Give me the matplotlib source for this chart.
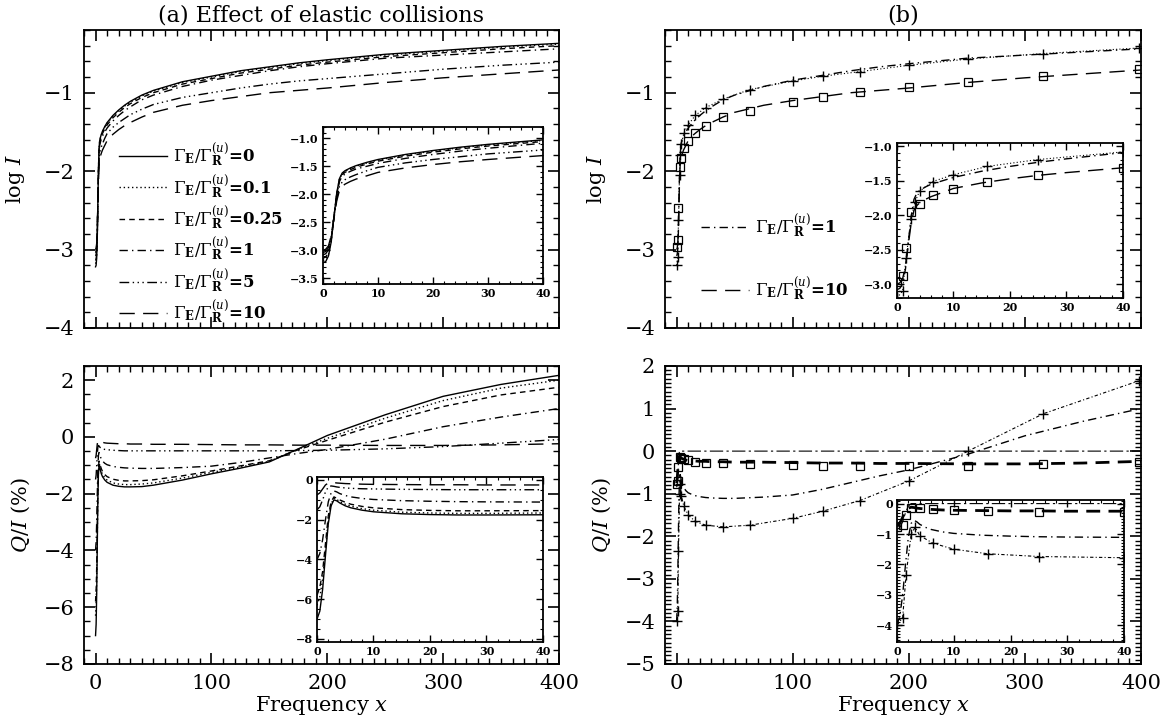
"""
Elastic collision effect on log I and Q/I profiles - two column comparison.
Saves: out.png
"""
import matplotlib
matplotlib.use("Agg")
import matplotlib.pyplot as plt
from matplotlib.ticker import MultipleLocator

plt.rcParams["font.family"] = "DejaVu Serif"
plt.rcParams["mathtext.fontset"] = "dejavuserif"
plt.rcParams["axes.linewidth"] = 1.3

# ── Data ──────────────────────────────────────────────────────────────────────
freq = [0, 0.5, 1, 1.5, 2, 2.5, 3, 3.5, 4, 5, 6, 8, 10, 15, 20, 25, 30, 40, 50,
        75, 100, 125, 150, 175, 200, 250, 300, 350, 400]

gammas = ["0", "0.1", "0.25", "1", "5", "10"]

logI_g0   = [-3.22, -3.20, -3.10, -2.85, -2.40, -1.98, -1.72, -1.62, -1.58, -1.53, -1.49, -1.43, -1.38, -1.29,
             -1.22, -1.16, -1.11, -1.03, -0.97, -0.86, -0.79, -0.72, -0.67, -0.62, -0.58, -0.51, -0.46, -0.41, -0.37]
logI_g01  = [-3.18, -3.16, -3.07, -2.83, -2.40, -1.99, -1.73, -1.63, -1.59, -1.54, -1.50, -1.44, -1.39, -1.30,
             -1.23, -1.17, -1.12, -1.04, -0.98, -0.87, -0.80, -0.73, -0.68, -0.63, -0.59, -0.52, -0.47, -0.42, -0.38]
logI_g025 = [-3.14, -3.12, -3.04, -2.81, -2.40, -2.00, -1.74, -1.65, -1.61, -1.56, -1.52, -1.46, -1.41, -1.32,
             -1.25, -1.19, -1.14, -1.06, -1.00, -0.89, -0.82, -0.75, -0.70, -0.65, -0.61, -0.54, -0.49, -0.44, -0.40]
logI_g1   = [-3.08, -3.06, -2.99, -2.78, -2.40, -2.02, -1.77, -1.68, -1.64, -1.59, -1.55, -1.50, -1.45, -1.36,
             -1.29, -1.23, -1.18, -1.09, -1.03, -0.92, -0.84, -0.78, -0.72, -0.67, -0.63, -0.56, -0.52, -0.48, -0.44]
logI_g5   = [-3.04, -3.02, -2.95, -2.76, -2.42, -2.08, -1.86, -1.78, -1.74, -1.69, -1.65, -1.58, -1.52, -1.44,
             -1.38, -1.33, -1.28, -1.21, -1.15, -1.06, -1.00, -0.94, -0.89, -0.85, -0.82, -0.76, -0.70, -0.65, -0.61]
logI_g10  = [-3.00, -2.98, -2.92, -2.74, -2.43, -2.12, -1.93, -1.86, -1.82, -1.77, -1.73, -1.67, -1.61, -1.53,
             -1.47, -1.42, -1.38, -1.31, -1.25, -1.16, -1.10, -1.05, -1.00, -0.97, -0.94, -0.87, -0.81, -0.76, -0.71]

qi_g0   = [-7.00, -6.60, -5.50, -3.80, -2.20, -1.30, -1.00, -1.05, -1.15, -1.30, -1.40, -1.52, -1.60, -1.70,
           -1.74, -1.76, -1.76, -1.75, -1.70, -1.52, -1.30, -1.10, -0.88, -0.42, 0.05, 0.78, 1.43, 1.85, 2.17]
qi_g01  = [-6.30, -5.90, -5.00, -3.50, -2.00, -1.20, -0.92, -0.98, -1.08, -1.22, -1.32, -1.44, -1.52, -1.62,
           -1.66, -1.68, -1.68, -1.66, -1.62, -1.45, -1.25, -1.06, -0.86, -0.43, -0.05, 0.66, 1.28, 1.72, 2.00]
qi_g025 = [-5.80, -5.40, -4.60, -3.20, -1.80, -1.10, -0.85, -0.92, -1.00, -1.12, -1.22, -1.33, -1.40, -1.49,
           -1.53, -1.55, -1.55, -1.54, -1.51, -1.37, -1.20, -1.02, -0.84, -0.45, -0.12, 0.52, 1.07, 1.48, 1.75]
qi_g1   = [-4.00, -3.70, -3.00, -2.00, -1.10, -0.65, -0.55, -0.60, -0.68, -0.78, -0.85, -0.93, -0.98, -1.04,
           -1.07, -1.09, -1.10, -1.11, -1.11, -1.08, -1.03, -0.90, -0.74, -0.58, -0.44, -0.08, 0.36, 0.70, 1.00]
qi_g5   = [-1.50, -1.35, -1.00, -0.60, -0.35, -0.30, -0.32, -0.35, -0.37, -0.40, -0.42, -0.44, -0.45, -0.47,
           -0.48, -0.49, -0.49, -0.49, -0.49, -0.49, -0.49, -0.49, -0.49, -0.48, -0.47, -0.42, -0.34, -0.22, -0.09]
qi_g10  = [-0.75, -0.65, -0.45, -0.25, -0.15, -0.12, -0.13, -0.15, -0.16, -0.18, -0.19, -0.21, -0.22, -0.23,
           -0.24, -0.24, -0.25, -0.25, -0.26, -0.26, -0.27, -0.28, -0.28, -0.29, -0.29, -0.30, -0.30, -0.28, -0.24]

logI_all = [logI_g0, logI_g01, logI_g025, logI_g1, logI_g5, logI_g10]
qi_all   = [qi_g0, qi_g01, qi_g025, qi_g1, qi_g5, qi_g10]

# panel (b): marker solutions
freq_plus = [0, 1, 1.6, 2.5, 3.2, 4, 6.3, 10, 16, 25, 40, 63, 100, 126, 158, 200, 251, 316, 398]
logI_plus = [-3.20, -3.10, -2.62, -2.05, -1.80, -1.65, -1.51, -1.41, -1.29, -1.19, -1.08, -0.96, -0.85,
             -0.79, -0.73, -0.65, -0.57, -0.50, -0.43]
qi_plus   = [-4.00, -3.75, -2.35, -1.00, -0.78, -1.05, -1.30, -1.50, -1.65, -1.74, -1.78, -1.74, -1.58,
             -1.41, -1.16, -0.70, 0.00, 0.88, 1.65]

freq_sq = [0, 1, 1.6, 2.5, 4, 6.3, 10, 16, 25, 40, 63, 100, 126, 158, 200, 251, 316, 398]
logI_sq = [-2.97, -2.88, -2.47, -1.95, -1.83, -1.71, -1.62, -1.51, -1.42, -1.31, -1.23, -1.12, -1.05,
           -0.99, -0.93, -0.86, -0.79, -0.70]
qi_sq   = [-0.78, -0.70, -0.37, -0.13, -0.15, -0.19, -0.22, -0.25, -0.27, -0.28, -0.31, -0.33, -0.34,
           -0.35, -0.35, -0.34, -0.31, -0.25]

freq_zero = [0, 0.5, 1, 1.5, 2, 2.5, 3, 400]
qi_zero   = [-0.85, -0.80, -0.60, -0.30, -0.08, 0.00, 0.00, 0.00]

# ── Styles ────────────────────────────────────────────────────────────────────
SOLID = "-"
DOT   = (0, (1, 2))
DASH  = (0, (4, 3))
DDOT  = (0, (6, 3, 1, 3))
D3DOT = (0, (7, 2.5, 1, 2.5, 1, 2.5, 1, 2.5))
LDASH = (0, (11, 6))
FINE  = (0, (3, 2, 1, 2))
styles = [SOLID, DOT, DASH, DDOT, D3DOT, LDASH]
LW = 1.0


def gamma_label(g):
    return r"$\Gamma_{\mathbf{E}}/\Gamma_{\mathbf{R}}^{(u)}$=" + g


def style_main(ax, ymaj, ymin):
    ax.set_xlim(-10, 400)
    ax.xaxis.set_major_locator(MultipleLocator(100))
    ax.xaxis.set_minor_locator(MultipleLocator(10))
    ax.yaxis.set_major_locator(MultipleLocator(ymaj))
    ax.yaxis.set_minor_locator(MultipleLocator(ymin))
    ax.tick_params(which="both", direction="in", top=True, right=True, labelsize=15)
    ax.tick_params(which="major", length=8, width=1.2, pad=7)
    ax.tick_params(which="minor", length=4, width=1.0)


def style_inset(ax, ylim, ymaj, ymin):
    ax.set_xlim(0, 40)
    ax.set_ylim(*ylim)
    ax.xaxis.set_major_locator(MultipleLocator(10))
    ax.xaxis.set_minor_locator(MultipleLocator(2))
    ax.yaxis.set_major_locator(MultipleLocator(ymaj))
    ax.yaxis.set_minor_locator(MultipleLocator(ymin))
    ax.tick_params(which="both", direction="in", top=True, right=True, labelsize=8, pad=3)
    ax.tick_params(which="major", length=5, width=1.0)
    ax.tick_params(which="minor", length=2.5, width=0.8)
    for lab in ax.get_xticklabels() + ax.get_yticklabels():
        lab.set_fontweight("bold")


fig = plt.figure(figsize=(11.71, 7.21), dpi=100)
fig.patch.set_facecolor("white")

ax_tl = fig.add_axes([0.0717, 0.5451, 0.4056, 0.4133])
ax_bl = fig.add_axes([0.0717, 0.0791, 0.4056, 0.4133])
ax_tr = fig.add_axes([0.5679, 0.5451, 0.4065, 0.4133])
ax_br = fig.add_axes([0.5679, 0.0791, 0.4065, 0.4133])

in_tl = fig.add_axes([0.2758, 0.6061, 0.1879, 0.2178])
in_bl = fig.add_axes([0.2707, 0.1096, 0.1930, 0.2288])
in_tr = fig.add_axes([0.7660, 0.5867, 0.1930, 0.2150])
in_br = fig.add_axes([0.7660, 0.1096, 0.1939, 0.1970])

# ── (a) top: log I ────────────────────────────────────────────────────────────
for vals, ls, g in zip(logI_all, styles, gammas):
    ax_tl.plot(freq, vals, color="black", linestyle=ls, linewidth=LW, label=gamma_label(g))
    in_tl.plot(freq, vals, color="black", linestyle=ls, linewidth=LW)
ax_tl.set_ylim(-4, -0.2)
style_main(ax_tl, 1, 0.2)
ax_tl.set_xticklabels([])
ax_tl.set_ylabel(r"log $I$", fontsize=15, labelpad=12)
ax_tl.set_title("(a) Effect of elastic collisions", fontsize=16, pad=6)
ax_tl.legend(loc="upper left", bbox_to_anchor=(0.074, 0.625), frameon=False,
             handlelength=2.85, handletextpad=0.4, labelspacing=0.24, borderaxespad=0, borderpad=0,
             prop={"size": 12, "weight": "bold"})
style_inset(in_tl, (-3.6, -0.8), 0.5, 0.1)

# ── (a) bottom: Q/I ───────────────────────────────────────────────────────────
for vals, ls in zip(qi_all, styles):
    ax_bl.plot(freq, vals, color="black", linestyle=ls, linewidth=LW)
    in_bl.plot(freq, vals, color="black", linestyle=ls, linewidth=LW)
ax_bl.set_ylim(-8, 2.5)
style_main(ax_bl, 2, 0.5)
ax_bl.set_ylabel(r"$Q/I$ (%)", fontsize=15, labelpad=8)
ax_bl.set_xlabel(r"Frequency $x$", fontsize=15, labelpad=1)
style_inset(in_bl, (-8.15, 0.15), 2, 0.5)

# ── (b) top: log I ────────────────────────────────────────────────────────────
for ax in (ax_tr, in_tr):
    ax.plot(freq, logI_g1, color="black", linestyle=DDOT, linewidth=LW, label=gamma_label("1"))
    ax.plot(freq, logI_g10, color="black", linestyle=LDASH, linewidth=LW, label=gamma_label("10"))
    ax.plot(freq_plus, logI_plus, color="black", linestyle=DOT, linewidth=0.8,
            marker="+", markersize=7, markeredgewidth=1.0)
    ax.plot(freq_sq, logI_sq, color="black", linestyle="none",
            marker="s", markersize=6, markerfacecolor="none", markeredgewidth=0.9)
ax_tr.set_ylim(-4, -0.2)
style_main(ax_tr, 1, 0.2)
ax_tr.set_xticklabels([])
ax_tr.set_ylabel(r"log $I$", fontsize=15, labelpad=12)
ax_tr.set_title("(b)", fontsize=16, pad=6)
ax_tr.legend(loc="upper left", bbox_to_anchor=(0.076, 0.388), frameon=False,
             handlelength=2.85, handletextpad=0.4, labelspacing=2.15, borderaxespad=0, borderpad=0,
             prop={"size": 12, "weight": "bold"})
style_inset(in_tr, (-3.2, -0.95), 0.5, 0.1)

# ── (b) bottom: Q/I ───────────────────────────────────────────────────────────
for ax in (ax_br, in_br):
    ax.plot(freq_zero, qi_zero, color="black", linestyle=(0, (12, 3, 2, 3)), linewidth=0.8)
    ax.plot(freq, qi_g1, color="black", linestyle=DDOT, linewidth=LW)
    ax.plot(freq, qi_g10, color="black", linestyle=(0, (5, 3)), linewidth=2.0)
    ax.plot(freq_plus, qi_plus, color="black", linestyle=FINE, linewidth=0.8,
            marker="+", markersize=7, markeredgewidth=1.0)
    ax.plot(freq_sq, qi_sq, color="black", linestyle="none",
            marker="s", markersize=6, markerfacecolor="none", markeredgewidth=0.9)
ax_br.set_ylim(-5, 2)
style_main(ax_br, 1, 0.1)
ax_br.set_ylabel(r"$Q/I$ (%)", fontsize=15, labelpad=8)
ax_br.set_xlabel(r"Frequency $x$", fontsize=15, labelpad=1)
style_inset(in_br, (-4.55, 0.12), 1, 0.1)

plt.savefig("out.png", dpi=100)
plt.close()
